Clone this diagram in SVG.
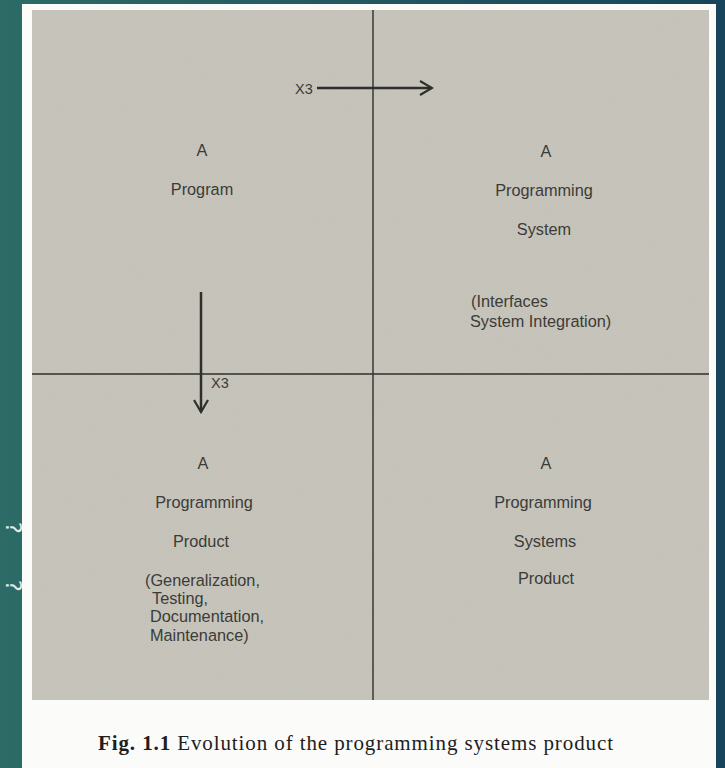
<svg xmlns="http://www.w3.org/2000/svg" width="725" height="768" viewBox="0 0 725 768">
  <defs>
    <linearGradient id="bg" x1="0" y1="0" x2="1" y2="0">
      <stop offset="0" stop-color="#2c6b66"/>
      <stop offset="1" stop-color="#17445a"/>
    </linearGradient>
    <filter id="grain" x="0" y="0" width="100%" height="100%">
      <feTurbulence type="fractalNoise" baseFrequency="0.9" numOctaves="2" seed="3" result="n"/>
      <feColorMatrix in="n" type="matrix" values="0 0 0 0 0.45  0 0 0 0 0.44  0 0 0 0 0.40  0 0 0 0.9 -0.25"/>
    </filter>
    <marker id="arr" viewBox="0 0 16 16" refX="14" refY="8" markerWidth="16" markerHeight="16" markerUnits="userSpaceOnUse" orient="auto">
      <path d="M2,1 L14,8 L2,15" fill="none" stroke="#2e2e2c" stroke-width="2.2"/>
    </marker>
  </defs>
  <style>
    .t { font-family: "Liberation Sans", Arial, sans-serif; font-size: 16.3px; fill: #3b3b38; }
    .c { text-anchor: middle; }
    .x3 { font-family: "Liberation Sans", Arial, sans-serif; font-size: 14.5px; fill: #3b3b38; }
    .ax { stroke: #2e2e2c; stroke-width: 1.4; fill: none; }
    .ar { stroke: #2e2e2c; stroke-width: 2.5; fill: none; }
    .cap { font-family: "Liberation Serif", "Times New Roman", serif; font-size: 21px; fill: #1e1e1e; }
    .deco { font-family: "DejaVu Sans", sans-serif; font-size: 22px; fill: #e3ecea; }
  </style>
  <rect x="0" y="0" width="725" height="768" fill="url(#bg)"/>
  <text class="deco" x="6" y="522" transform="rotate(90 6 522)">?</text>
  <text class="deco" x="6" y="580" transform="rotate(90 6 580)">?</text>
  <rect x="22" y="4" width="694" height="764" fill="#fbfbf9"/>
  <rect x="32" y="10" width="677" height="690" fill="#c7c5bb"/>
  <rect x="32" y="10" width="677" height="690" filter="url(#grain)" opacity="0.35"/>

  <g id="connectors">
    <line class="ax" x1="373" y1="10" x2="373" y2="700"/>
    <line class="ax" x1="32" y1="374" x2="709" y2="374"/>
    <line class="ar" x1="317" y1="88" x2="432" y2="88" marker-end="url(#arr)"/>
    <text class="x3" x="295" y="94">X3</text>
    <line class="ar" x1="201" y1="292" x2="201" y2="412" marker-end="url(#arr)"/>
    <text class="x3" x="211" y="388">X3</text>
  </g>

  <g id="program">
    <text class="t c" x="202" y="156">A</text>
    <text class="t c" x="202" y="195">Program</text>
  </g>
  <g id="programming-system">
    <text class="t c" x="546" y="157">A</text>
    <text class="t c" x="544" y="196">Programming</text>
    <text class="t c" x="544" y="235">System</text>
    <text class="t" x="471" y="307">(Interfaces</text>
    <text class="t" x="470" y="327">System Integration)</text>
  </g>
  <g id="programming-product">
    <text class="t c" x="203" y="469">A</text>
    <text class="t c" x="204" y="508">Programming</text>
    <text class="t c" x="201" y="547">Product</text>
    <text class="t" x="145" y="586">(Generalization,</text>
    <text class="t" x="152" y="604">Testing,</text>
    <text class="t" x="150" y="622">Documentation,</text>
    <text class="t" x="150" y="641">Maintenance)</text>
  </g>
  <g id="programming-systems-product">
    <text class="t c" x="546" y="469">A</text>
    <text class="t c" x="543" y="508">Programming</text>
    <text class="t c" x="545" y="547">Systems</text>
    <text class="t c" x="546" y="584">Product</text>
  </g>
  <g id="caption">
    <text class="cap" x="98" y="750" textLength="515" lengthAdjust="spacing"><tspan font-weight="bold">Fig. 1.1</tspan>   Evolution of the programming systems product</text>
  </g>
</svg>
